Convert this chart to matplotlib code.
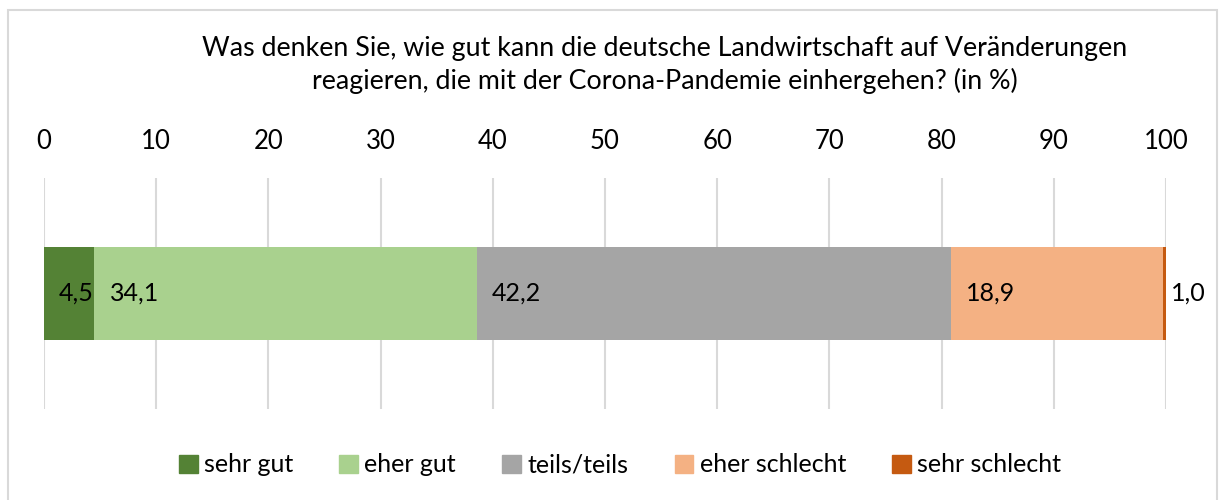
import matplotlib
matplotlib.use("Agg")
import matplotlib.pyplot as plt
from matplotlib.patches import Rectangle, Patch

plt.rcParams['font.family'] = ['Lato', 'DejaVu Sans']

categories = ["sehr gut", "eher gut", "teils/teils", "eher schlecht", "sehr schlecht"]
values = [4.5, 34.1, 42.2, 18.9, 1.0]
labels = ["4,5", "34,1", "42,2", "18,9", "1,0"]
colors = ["#548235", "#A9D18E", "#A5A5A5", "#F4B183", "#C55A11"]
ticks = [0, 10, 20, 30, 40, 50, 60, 70, 80, 90, 100]

title = ("Was denken Sie, wie gut kann die deutsche Landwirtschaft auf Veränderungen\n"
         "reagieren, die mit der Corona-Pandemie einhergehen? (in %)")

fig = plt.figure(figsize=(12.19, 5), dpi=100)
ax = fig.add_axes([44 / 1219, 91 / 500, 1122 / 1219, 231 / 500])

left = 0
for cat, val, lab, col in zip(categories, values, labels, colors):
    ax.barh(0, val, left=left, height=0.8, color=col, label=cat)
    # label sits just inside the start of each segment; the last one runs past 100
    off = 15 if left + val <= 100 else 8
    ax.annotate(lab, xy=(min(left, 100), 0), xytext=(off, 0), textcoords="offset pixels",
                ha="left", va="center", fontsize=18, color="black",
                annotation_clip=False)
    left += val

ax.set_xlim(0, 100)
ax.set_ylim(-1, 1)
ax.set_xticks(ticks)
ax.set_yticks([])
ax.xaxis.tick_top()
ax.tick_params(axis="x", length=0, pad=17, labelsize=18.5)
ax.grid(axis="x", color="#d9d9d9", linewidth=1.5)
ax.set_axisbelow(True)
for s in ax.spines.values():
    s.set_visible(False)

fig.text(665 / 1219, 1 - 65 / 500, title, ha="center", va="center",
         fontsize=19.3, linespacing=1.3)

handles = [Patch(color=c, label=n) for n, c in zip(categories, colors)]
fig.legend(handles=handles, loc="center", bbox_to_anchor=(620 / 1219, 1 - 465 / 500),
           ncol=5, frameon=False, fontsize=18, handlelength=0.75, handleheight=0.75,
           handletextpad=0.25, columnspacing=1.85)

fig.patches.append(Rectangle((7.5 / 1219, -0.1), 1209 / 1219, 1.1 - 10 / 500,
                             transform=fig.transFigure, fill=False,
                             edgecolor="#d9d9d9", linewidth=1.5))

fig.savefig("out.png", dpi=100)
